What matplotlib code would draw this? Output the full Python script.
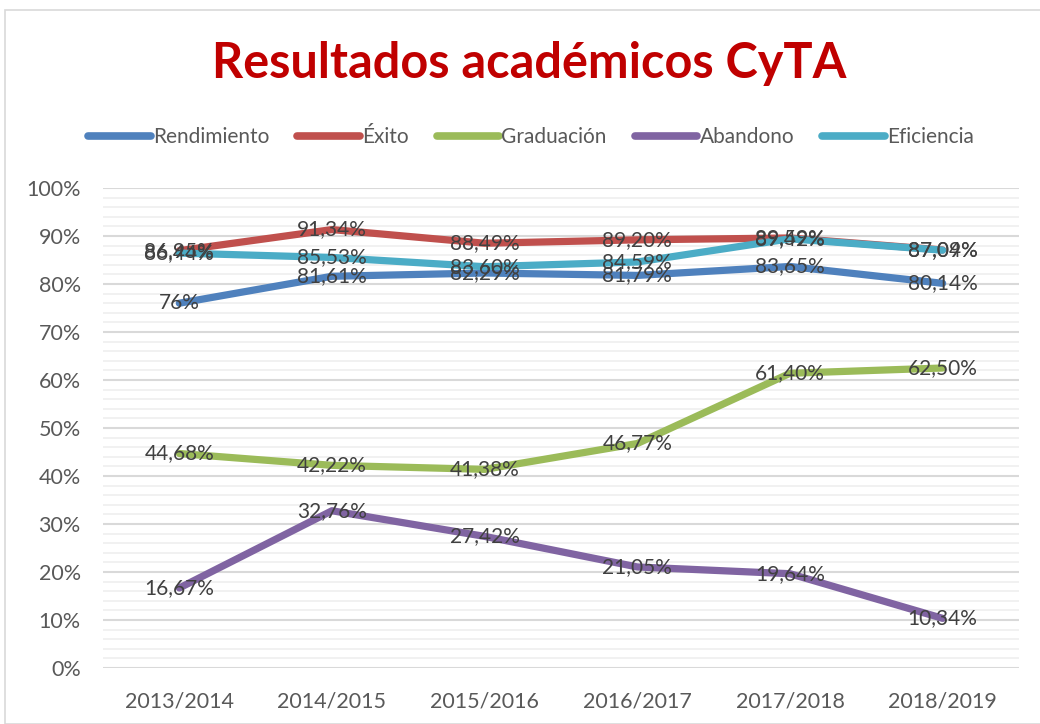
import matplotlib
matplotlib.use("Agg")
import matplotlib.pyplot as plt
from matplotlib.lines import Line2D
from matplotlib.patches import Rectangle

categories = ["2013/2014", "2014/2015", "2015/2016", "2016/2017", "2017/2018", "2018/2019"]
rendimiento = [76.00, 81.61, 82.29, 81.79, 83.65, 80.14]
exito = [86.95, 91.34, 88.49, 89.20, 89.59, 87.09]
graduacion = [44.68, 42.22, 41.38, 46.77, 61.40, 62.50]
abandono = [16.67, 32.76, 27.42, 21.05, 19.64, 10.34]
eficiencia = [86.44, 85.53, 83.60, 84.59, 89.42, 87.04]

series = [
    ("Rendimiento", rendimiento, "#4F81BD"),
    ("Éxito", exito, "#C0504D"),
    ("Graduación", graduacion, "#9BBB59"),
    ("Abandono", abandono, "#8064A2"),
    ("Eficiencia", eficiencia, "#4BACC6"),
]
yticks = list(range(0, 101, 10))

FONT = "Lato"
W, H = 1040, 724
fig = plt.figure(figsize=(W / 100, H / 100), dpi=100)
fig.patch.set_facecolor("white")

# outer chart frame
fig.add_artist(Rectangle((5 / W, 0), (W - 5) / W + 0.01, 1 - 10 / H,
                         transform=fig.transFigure, fill=False,
                         edgecolor="#D9D9D9", linewidth=1.2))

left, right = 103 / W, 1019 / W
top, bottom = 188 / H, 668 / H
ax = fig.add_axes([left, 1 - bottom, right - left, bottom - top])
ax.set_xlim(-0.5, len(categories) - 0.5)
ax.set_ylim(0, 100)

for v in range(0, 101, 2):
    if v % 10 == 0:
        ax.axhline(v, color="#D9D9D9", lw=1.5, zorder=0)
    else:
        ax.axhline(v, color="#EFEFEF", lw=1.2, zorder=0)

x = list(range(len(categories)))
for name, vals, col in series:
    ax.plot(x, vals, color=col, lw=5.2, solid_capstyle="round", zorder=2)
for name, vals, col in series:
    for xi, v in zip(x, vals):
        s = f"{v:.2f}".replace(".", ",") + "%"
        if s == "76,00%":
            s = "76%"
        ax.text(xi, v, s, ha="center", va="center", fontsize=15,
                color="#404040", family=FONT, zorder=3)

for s in ax.spines.values():
    s.set_visible(False)
ax.set_yticks(yticks)
ax.set_yticklabels([f"{t}%" for t in yticks], fontsize=15.5, color="#595959", family=FONT)
ax.set_xticks(x)
ax.set_xticklabels(categories, fontsize=15.5, color="#595959", family=FONT)
ax.tick_params(length=0)
ax.tick_params(axis="y", pad=16)
ax.tick_params(axis="x", pad=17)

fig.text(529 / W, 1 - 64 / H, "Resultados académicos CyTA", ha="center", va="center",
         fontsize=35, fontweight="bold", color="#C00000", family=FONT)

handles = [Line2D([0], [0], color=c, lw=5.5, solid_capstyle="round") for _, _, c in series]
labels = [n for n, _, _ in series]
leg = fig.legend(handles, labels, loc="center", bbox_to_anchor=(531 / W, 1 - 137 / H),
                 ncol=5, frameon=False, handlelength=3.0, handletextpad=0.1,
                 columnspacing=1.35, prop={"family": FONT, "size": 15})
for t in leg.get_texts():
    t.set_color("#595959")

fig.savefig("out.png", dpi=100, facecolor="white")
